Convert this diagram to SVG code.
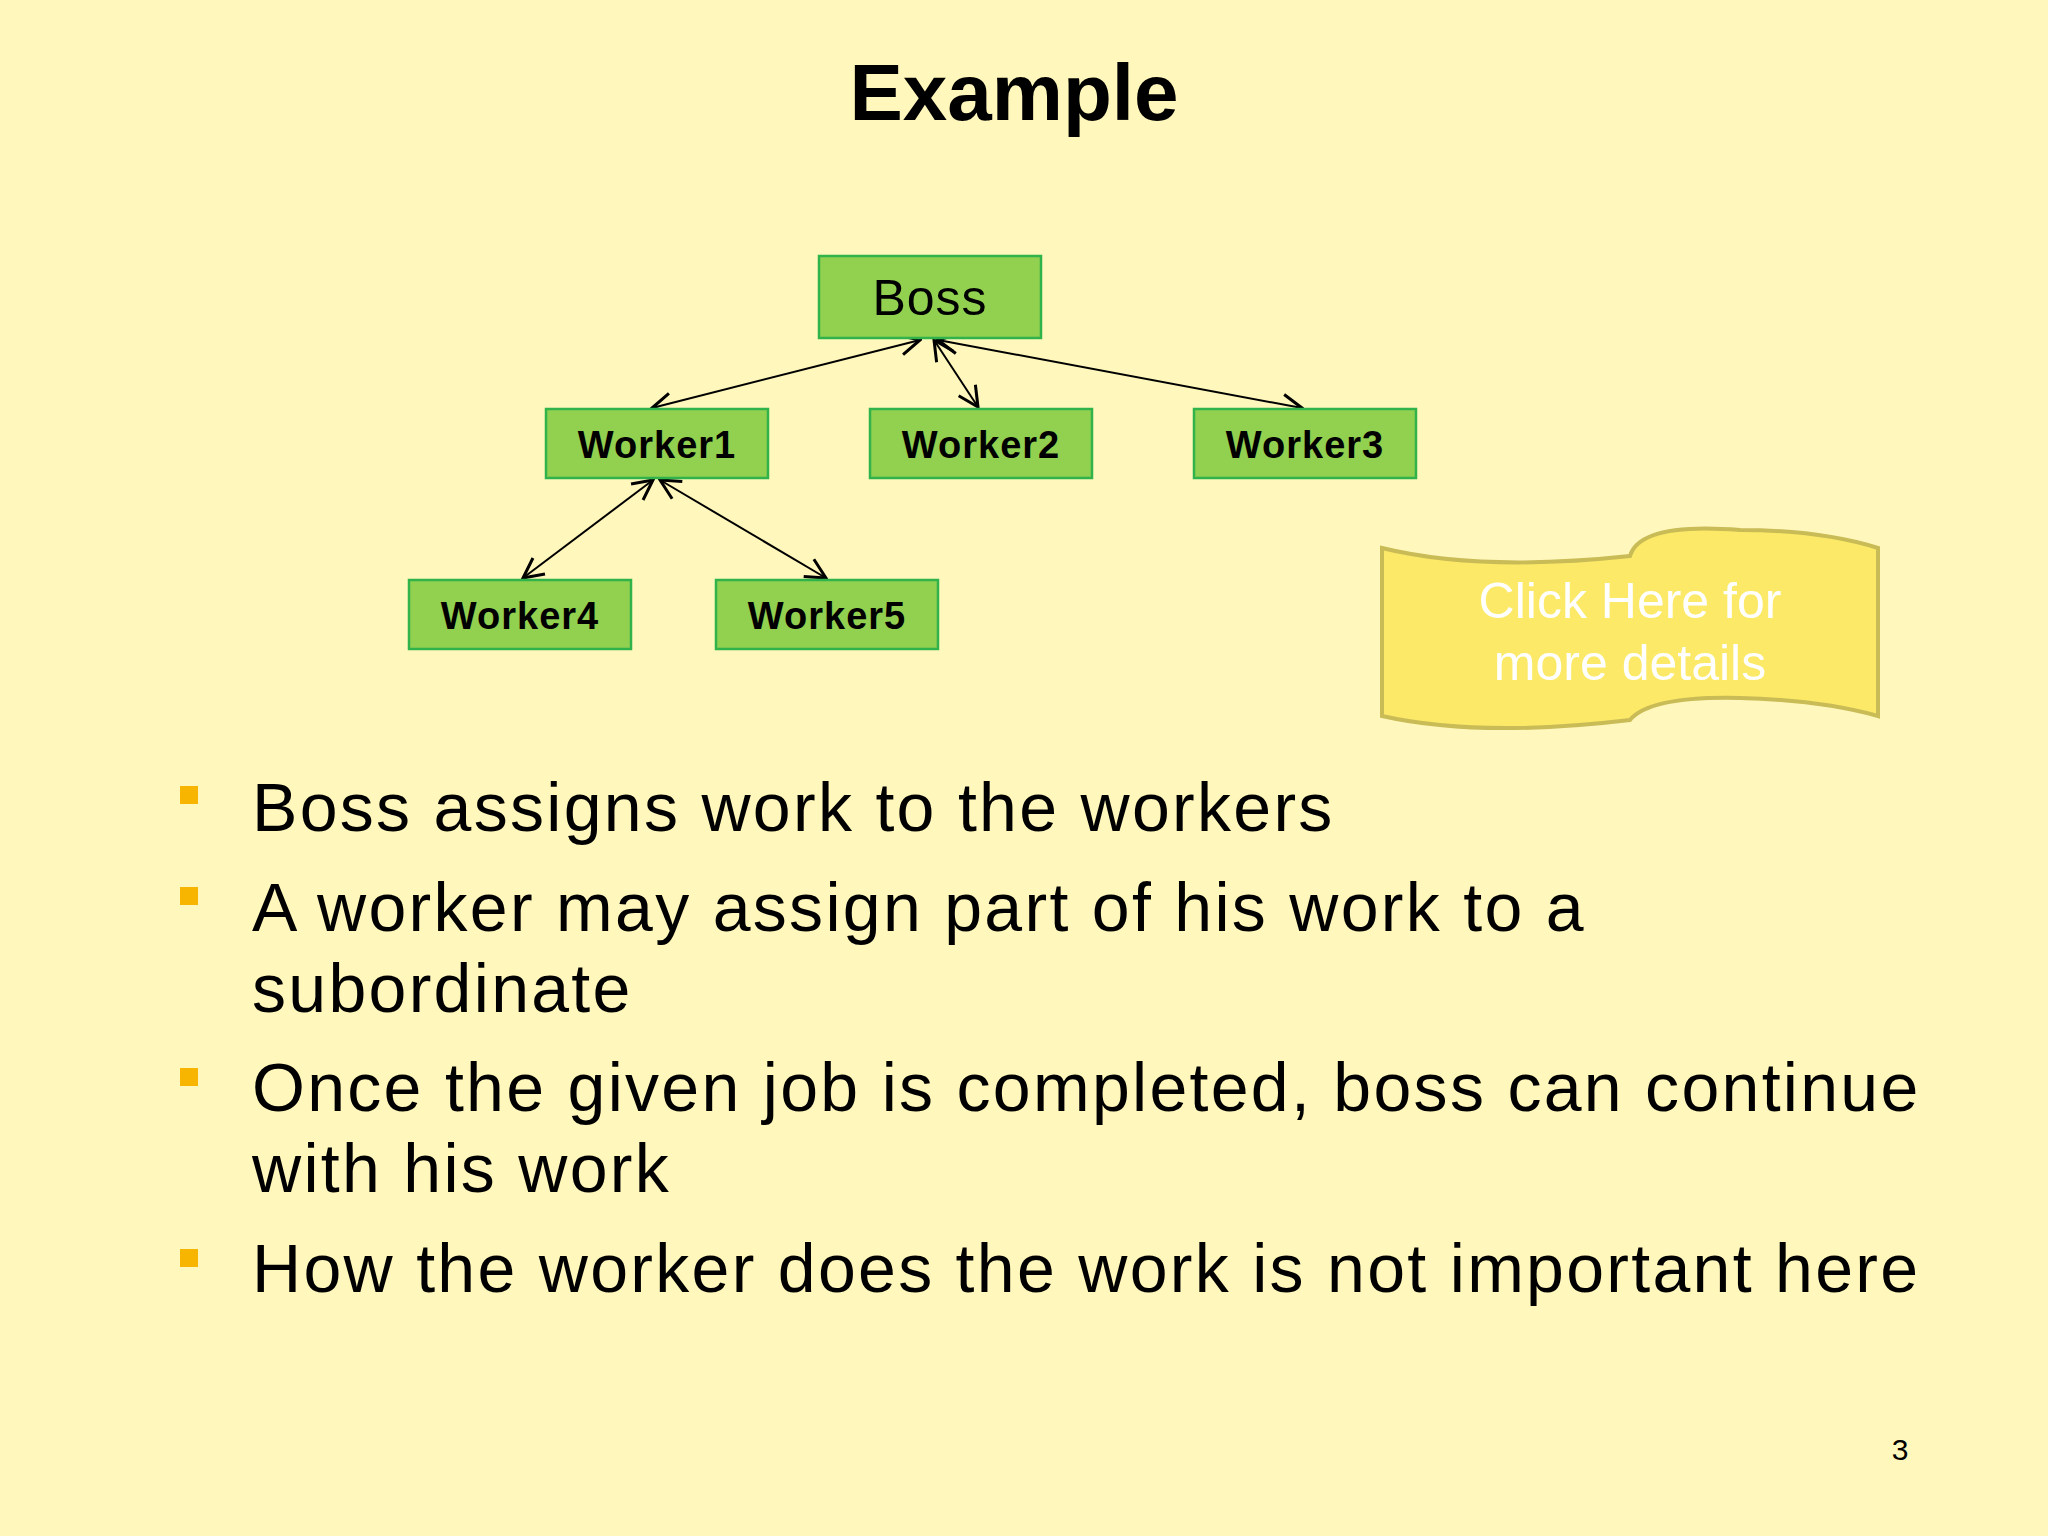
<svg xmlns="http://www.w3.org/2000/svg" width="2048" height="1536" viewBox="0 0 2048 1536">
<style>
.box{fill:#92d050;stroke:#2fb34a;stroke-width:2.5}
.lbl{font-family:"Liberation Sans",sans-serif;font-weight:bold;font-size:38px;fill:#000;text-anchor:middle;letter-spacing:1px}
.con{stroke:#000;stroke-width:2;fill:none;marker-start:url(#v);marker-end:url(#v)}
.b{font-family:"Liberation Sans",sans-serif;font-size:68px;fill:#000;letter-spacing:2.3px}
.sq{fill:#f8b500}
</style>
<defs>
<marker id="v" viewBox="0 0 24 24" refX="22" refY="12" markerWidth="24" markerHeight="24" markerUnits="userSpaceOnUse" orient="auto-start-reverse">
<path d="M2,2 L22,12 L2,22" fill="none" stroke="#000" stroke-width="3"/>
</marker>
</defs>
<rect width="2048" height="1536" fill="#fff7bc"/>
<text x="1014" y="120" font-family="Liberation Sans,sans-serif" font-weight="bold" font-size="80" text-anchor="middle">Example</text>
<g id="connectors">
<line class="con" x1="920" y1="340" x2="652" y2="408"/>
<line class="con" x1="934" y1="340" x2="978" y2="407"/>
<line class="con" x1="938" y1="340" x2="1302" y2="408"/>
<line class="con" x1="653" y1="480" x2="523" y2="578"/>
<line class="con" x1="660" y1="480" x2="826" y2="578"/>
</g>
<g id="boss"><rect class="box" x="819" y="256" width="222" height="82"/><text class="lbl" x="930" y="315" style="font-weight:normal;font-size:50px">Boss</text></g>
<g id="worker1"><rect class="box" x="546" y="409" width="222" height="69"/><text class="lbl" x="657" y="458">Worker1</text></g>
<g id="worker2"><rect class="box" x="870" y="409" width="222" height="69"/><text class="lbl" x="981" y="458">Worker2</text></g>
<g id="worker3"><rect class="box" x="1194" y="409" width="222" height="69"/><text class="lbl" x="1305" y="458">Worker3</text></g>
<g id="worker4"><rect class="box" x="409" y="580" width="222" height="69"/><text class="lbl" x="520" y="629">Worker4</text></g>
<g id="worker5"><rect class="box" x="716" y="580" width="222" height="69"/><text class="lbl" x="827" y="629">Worker5</text></g>
<g id="callout">
<path d="M1382,548 Q1480,572 1630,556 Q1640,522 1740,530 Q1820,530 1878,548 L1878,716 Q1820,700 1740,698 Q1650,696 1630,720 Q1480,738 1382,716 Z" fill="#fbe967" stroke="#c9bb55" stroke-width="4"/>
<text x="1630" y="618" font-family="Liberation Sans,sans-serif" font-size="50" fill="#fff" text-anchor="middle">Click Here for</text>
<text x="1630" y="680" font-family="Liberation Sans,sans-serif" font-size="50" fill="#fff" text-anchor="middle">more details</text>
</g>
<rect class="sq" x="180" y="786" width="18" height="18"/>
<rect class="sq" x="180" y="887" width="18" height="18"/>
<rect class="sq" x="180" y="1068" width="18" height="18"/>
<rect class="sq" x="180" y="1249" width="18" height="18"/>
<text class="b" x="252" y="831">Boss assigns work to the workers</text>
<text class="b" x="252" y="931">A worker may assign part of his work to a</text>
<text class="b" x="252" y="1012">subordinate</text>
<text class="b" x="252" y="1111">Once the given job is completed, boss can continue</text>
<text class="b" x="252" y="1192">with his work</text>
<text class="b" x="252" y="1292">How the worker does the work is not important here</text>
<text x="1900" y="1460" font-family="Liberation Sans,sans-serif" font-size="30" text-anchor="middle">3</text>
</svg>
